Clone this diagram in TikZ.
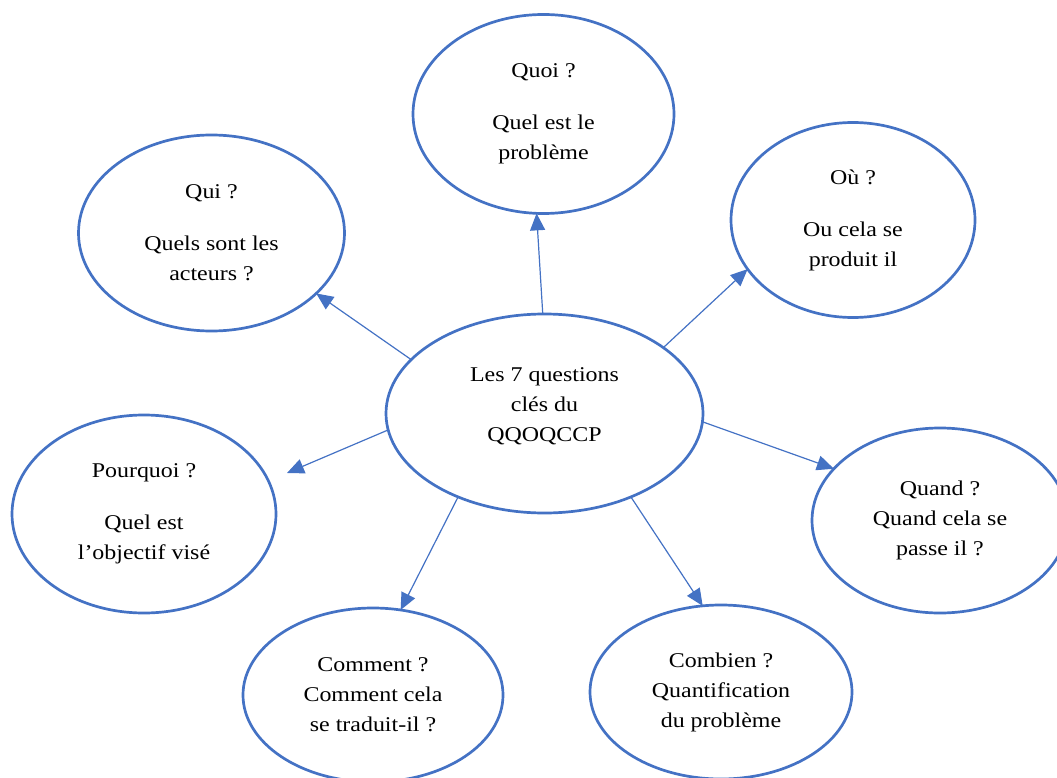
\documentclass[tikz,border=0pt]{standalone}
\usepackage{fontspec}
\setmainfont{Liberation Serif}[FakeStretch=1.14]
\usetikzlibrary{shapes.geometric,arrows.meta}
\definecolor{office}{HTML}{4472C4}

\begin{document}
\begin{tikzpicture}[x=1pt,y=-1pt,
  bubble/.style={ellipse, draw=office, line width=2.7pt, align=center,
    inner sep=0pt, outer sep=0pt, font=\fontsize{21}{30}\selectfont},
  link/.style={draw=office, line width=1.2pt,
    -{Triangle[length=17pt,width=15pt]}}]
\useasboundingbox (0,0) rectangle (1057,778);

% central question
\node[bubble, minimum width=317pt, minimum height=199pt, text depth=17.7pt]
  (hub) at (544.5,413.5) {Les 7 questions\\clés du\\QQOQCCP};

% the seven questions
\node[bubble, minimum width=261pt, minimum height=199pt]
  (quoi) at (543.5,114) {Quoi ?\\[22pt]Quel est le\\problème};
\node[bubble, minimum width=266pt, minimum height=196pt]
  (qui) at (211.5,233) {Qui ?\\[22pt]Quels sont les\\acteurs ?};
\node[bubble, minimum width=244pt, minimum height=195pt]
  (ou) at (853,220) {Où ?\\[22pt]Ou cela se\\produit il};
\node[bubble, minimum width=264pt, minimum height=198pt]
  (pourquoi) at (144,514) {Pourquoi ?\\[22pt]Quel est\\l’objectif visé};
\node[bubble, minimum width=256pt, minimum height=185pt]
  (quand) at (940,520.5) {Quand ?\\Quand cela se\\passe il ?};
\node[bubble, minimum width=260pt, minimum height=174pt]
  (comment) at (373,695) {Comment ?\\Comment cela\\se traduit-il ?};
\node[bubble, minimum width=262pt, minimum height=174pt]
  (combien) at (721,692) {Combien ?\\Quantification\\du problème};

% connectors
\coordinate (pourquoi-tip) at (287,473);
\draw[link] (hub.91)    -- (quoi.-94.3);
\draw[link] (hub.158.6) -- (qui.-30.5);
\draw[link] (hub.29.1)  -- (ou.205.9);
\draw[link] (hub.186.7) -- (pourquoi-tip);
\draw[link] (hub.-3.8)  -- (quand.154.1);
\draw[link] (hub.224.7) -- (comment.72.4);
\draw[link] (hub.-44)   -- (combien.102.3);
\end{tikzpicture}
\end{document}
